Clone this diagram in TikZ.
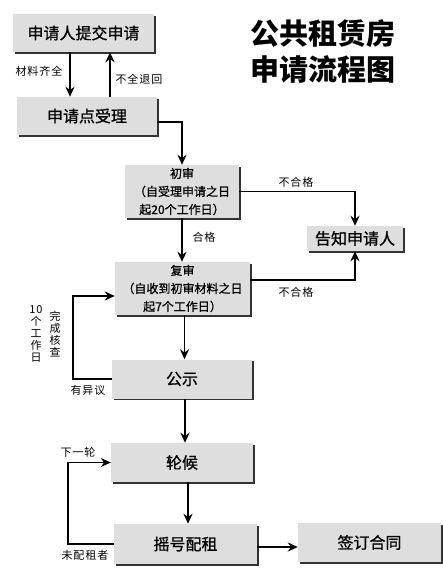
\documentclass[tikz,border=0pt]{standalone}
\usepackage{fontspec}
\setmainfont{Noto Sans CJK SC}
\newfontfamily\boxfont{Noto Sans CJK SC}[FakeBold=0.8]
\newfontfamily\lblfont{Noto Sans CJK SC}[LetterSpace=9]
\usetikzlibrary{arrows.meta,shadows}
\definecolor{boxgray}{RGB}{222,222,222}
\begin{document}
\begin{tikzpicture}[x=1pt,y=-1pt,
  box/.style={fill=boxgray,inner sep=0pt,align=center,
    drop shadow={shadow xshift=1.6pt,shadow yshift=-1.6pt,fill=black!80,opacity=1}},
  bigtext/.style={font=\boxfont\fontsize{16}{18}\selectfont},
  smalltext/.style={font=\boxfont\fontsize{12}{18}\selectfont},
  lbl/.style={inner sep=0pt,font=\lblfont\fontsize{11}{12}\selectfont},
  arr/.style={line width=1.8pt,-{Stealth[length=10pt,width=9pt]}},
  thinarr/.style={line width=1.1pt,-{Stealth[length=10pt,width=9pt]}}]
\useasboundingbox (0,0) rectangle (442,586);
\fill[white] (0,0) rectangle (442,586);

% title
\node[align=center,inner sep=0pt,font=\fontsize{29}{36}\selectfont\bfseries] (title) at (323,51) {公共租赁房\\申请流程图};

% boxes
\node[box,bigtext,minimum width=141pt,minimum height=38pt] (submit) at (83.5,33) {申请人提交申请};
\node[box,bigtext,minimum width=140pt,minimum height=38pt] (accept) at (87,116) {申请点受理};
\node[box,smalltext,minimum width=114pt,minimum height=53pt] (first) at (182,191.5) {初审\\（自受理申请之日\\起20个工作日）};
\node[box,bigtext,minimum width=96pt,minimum height=25pt] (notify) at (355,238.5) {告知申请人};
\node[box,smalltext,minimum width=135pt,minimum height=53pt] (second) at (182.5,288.5) {复审\\（自收到初审材料之日\\起7个工作日）};
\node[box,bigtext,minimum width=140pt,minimum height=39pt] (public) at (182,379) {公示};
\node[box,bigtext,minimum width=142pt,minimum height=39pt] (wait) at (182,462.5) {轮候};
\node[box,bigtext,minimum width=143pt,minimum height=40pt] (lottery) at (185.5,544) {摇号配租};
\node[box,bigtext,minimum width=143pt,minimum height=39pt] (sign) at (369.5,542.5) {签订合同};

\coordinate (lx1) at (73,0);
\coordinate (lx2) at (68,0);

% connectors
\draw[arr] ([xshift=-13.5pt]submit.south) -- ([xshift=-13.5pt]submit.south |- accept.north);
\draw[arr] ([xshift=23pt]accept.north) -- ([xshift=23pt]accept.north |- submit.south);
\draw[arr] ([yshift=-6pt]accept.east) -| (first.north);
\draw[arr] (first.east) -| (notify.north);
\draw[arr] (first.south) -- (first.south |- second.north);
\draw[arr] ([yshift=8.5pt]second.east) -| (notify.south);
\draw[arr] ([xshift=2pt]second.south) -- ([xshift=2pt]second.south |- public.north);
\draw[thinarr] (public.west) -- (public.west -| lx1) |- ([yshift=-7.5pt]second.west);
\draw[arr] ([xshift=3pt]public.south) -- ([xshift=3pt]public.south |- wait.north);
\draw[arr] ([xshift=6pt]wait.south) -- ([xshift=6pt]wait.south |- lottery.north);
\draw[thinarr] (lottery.west) -- (lottery.west -| lx2) |- (wait.west);
\draw[arr] ([yshift=-3pt]lottery.east) -- ([yshift=-3pt]lottery.east -| sign.west);

% labels
\node[lbl] (l1) at (39,71) {材料齐全};
\node[lbl] (l2) at (139,79) {不全退回};
\node[lbl] (l3) at (296,182) {不合格};
\node[lbl] (l4) at (204,237) {合格};
\node[lbl] (l5) at (296,292) {不合格};
\node[lbl,align=center] (l6) at (36,334) {10\\个\\工\\作\\日};
\node[lbl,align=center] (l7) at (55,334) {完\\成\\核\\查};
\node[lbl] (l8) at (88,390) {有异议};
\node[lbl] (l9) at (78,452) {下一轮};
\node[lbl] (l10) at (85,555) {未配租者};
\end{tikzpicture}
\end{document}
